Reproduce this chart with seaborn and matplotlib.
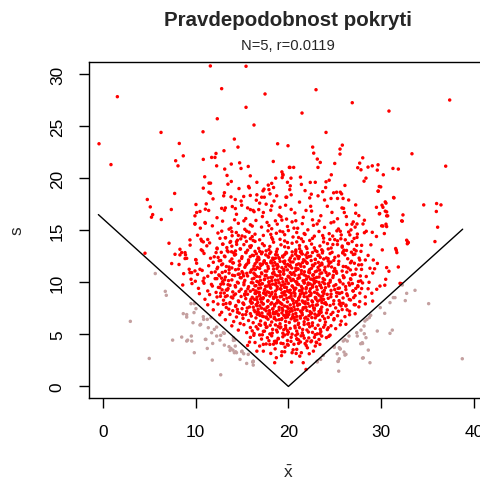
import matplotlib
matplotlib.use("Agg")
import matplotlib.pyplot as plt
import seaborn as sns
import pandas as pd

# --- data (x-bar, s) ---
# sparse red points above the V (outer part of the cloud)
red_outer = [
    (11.58, 30.77), (15.43, 30.74), (1.55, 27.82), (12.8, 28.59), (17.48, 28.08), (15.43, 26.8),
    (12.33, 25.7), (16.29, 25.1), (6.26, 24.39), (10.79, 24.45), (-0.43, 23.3), (8.23, 23.33),
    (14.17, 23.75), (14.56, 22.98), (18.84, 23.3), (0.86, 21.3), (7.84, 21.67), (8.09, 21.18),
    (8.66, 22.14), (12.19, 22.37), (11.72, 21.99), (12.08, 21.99), (13.05, 22.63), (10.82, 21.8),
    (12.26, 21.18), (13.13, 20.87), (13.84, 21.35), (14.74, 21.47), (14.89, 20.93), (15.67, 21.12),
    (18.37, 21.6), (20.1, 21.03), (13.38, 20.26), (10.97, 20.13), (15.89, 20.22), (19.39, 20.38),
    (19.33, 20.05), (11.43, 19.52), (11.6, 19.52), (13.48, 19.42), (13.84, 19.68), (10.82, 19.04),
    (14.67, 19.0), (15.78, 19.07), (11.43, 18.65), (11.6, 18.55), (17.37, 18.94), (17.26, 18.78),
    (17.83, 19.33), (18.2, 19.5), (18.4, 19.1), (18.63, 20.0), (4.78, 17.95), (5.1, 17.24),
    (5.36, 16.5), (5.23, 16.25), (6.29, 16.03), (7.37, 16.99), (7.73, 18.53), (10.03, 17.47),
    (11.14, 17.53), (9.92, 16.38), (10.46, 16.8), (11.04, 17.02), (11.0, 15.74), (9.92, 15.64),
    (11.87, 18.01), (13.02, 18.3), (13.81, 18.2), (14.27, 17.95), (15.18, 18.24), (15.89, 18.34),
    (16.54, 17.88), (17.12, 18.17), (17.4, 18.17), (18.02, 18.49), (18.74, 18.3), (19.74, 18.17),
    (18.2, 17.34), (18.45, 17.8), (13.2, 17.14), (13.1, 16.92), (13.95, 17.27), (14.28, 17.08),
    (14.96, 17.4), (15.6, 17.14), (15.9, 16.98), (16.2, 16.9), (16.8, 16.98),
    (22.98, 28.49), (26.89, 27.24), (37.4, 27.5), (21.47, 26.25), (30.85, 26.44), (24.06, 24.39),
    (19.96, 23.11), (22.62, 22.98), (25.82, 23.17), (25.57, 22.79), (25.57, 22.31), (28.02, 21.95),
    (22.73, 22.4), (23.12, 21.83), (23.44, 21.51), (23.19, 21.03), (20.17, 21.03), (20.57, 21.03),
    (25.0, 21.41), (27.69, 21.44), (27.48, 21.0), (27.83, 20.8), (28.59, 21.06), (29.05, 21.18),
    (29.67, 21.28), (29.59, 20.77), (31.28, 20.93), (31.86, 20.87), (33.33, 22.34), (36.97, 21.15),
    (19.42, 20.29), (19.3, 20.6), (20.28, 20.0), (24.63, 20.32), (28.37, 20.0), (28.16, 19.71),
    (30.24, 20.32), (22.36, 19.59), (24.06, 19.65), (20.2, 19.26), (20.15, 18.9), (24.02, 19.1),
    (29.96, 19.16), (29.67, 18.75), (19.82, 18.17), (22.47, 18.46), (24.88, 18.59), (25.2, 18.65),
    (25.6, 18.65), (24.6, 18.05), (25.3, 18.05), (25.9, 18.05), (25.74, 18.49), (31.35, 18.14),
    (30.45, 17.72), (34.6, 17.43), (35.99, 17.56), (36.46, 17.43), (35.96, 16.8), (32.36, 16.47),
    (32.22, 15.9), (30.1, 17.4), (30.2, 17.2), (29.5, 17.2), (30.45, 16.83), (29.81, 16.57),
    (30.6, 16.38), (30.2, 15.4), (30.6, 15.35), (28.2, 15.96), (28.05, 15.6), (27.26, 17.43),
    (27.26, 16.63), (26.86, 15.58), (27.0, 15.8), (27.4, 15.6), (26.25, 16.31), (26.03, 16.7),
    (25.78, 17.14), (25.95, 17.1), (36.1, 15.29), (35.81, 13.91), (32.87, 13.88), (32.83, 13.7),
    (32.29, 15.87), (30.13, 13.11), (31.64, 13.08), (31.7, 12.85), (30.85, 11.06), (30.6, 11.41),
    (30.5, 10.29), (29.53, 9.33), (29.88, 9.64), (29.09, 8.2), (32.04, 9.9), (32.18, 9.87),
    (28.3, 12.14), (29.16, 12.14), (26.75, 15.03), (32.76, 14.04), (32.94, 13.81), (31.57, 13.24),
    (31.86, 11.47), (30.35, 14.68), (30.06, 15.42), (30.53, 15.58), (30.71, 16.38), (29.85, 16.6),
    (30.6, 16.76), (30.53, 17.6), (31.39, 18.1), (29.7, 18.75), (29.8, 19.2), (29.05, 14.8),
    (9.38, 14.07), (8.3, 13.17), (8.49, 12.86), (7.77, 12.69), (8.85, 12.28), (7.41, 11.8),
    (9.38, 10.93), (10.1, 16.7), (10.65, 13.97), (10.82, 13.88), (10.75, 13.01), (9.92, 11.09),
    (10.46, 11.25), (7.12, 13.75), (4.53, 12.79), (8.6, 9.74), (8.3, 12.63), (8.85, 12.85),
    (9.03, 12.3), (10.03, 12.15), (9.96, 10.1), (9.57, 10.93), (10.57, 14.13), (11.04, 15.67),
    (9.92, 15.58), (17.6, 17.5), (19.1, 17.2), (21.2, 17.7), (22.4, 17.3), (23.9, 17.9),
    (20.3, 18.4), (21.8, 18.8), (23.2, 18.3), (22.9, 19.6), (21.3, 20.1), (16.6, 19.6),
]

# red points close to the bottom of the V
red_low = [
    (15.6, 3.94), (15.8, 4.26), (16.6, 3.39), (17.3, 3.39), (16.9, 3.88), (18.0, 4.04), (18.1, 3.17),
    (18.7, 2.76), (18.52, 2.28), (19.3, 3.33), (19.6, 3.33), (19.9, 4.04), (20.35, 2.34), (20.4, 3.24),
    (20.9, 3.56), (21.4, 3.24), (21.6, 2.28), (21.9, 1.63), (22.25, 3.14), (22.7, 3.39), (22.9, 3.88),
    (23.05, 4.2), (22.0, 4.36), (21.1, 4.13), (17.3, 4.04), (18.7, 4.36), (24.3, 5.64), (23.4, 4.04),
    (17.42, 5.31), (22.58, 5.84), (18.91, 4.57), (21.37, 4.86), (19.64, 3.78), (20.73, 5.62), (16.85, 5.96),
    (23.44, 5.49), (18.26, 5.12), (21.92, 3.94), (19.18, 5.71), (20.28, 4.33), (17.74, 4.68), (22.81, 4.72),
    (18.57, 3.61), (21.54, 5.47), (19.92, 5.02), (20.51, 3.52), (16.52, 5.73), (23.93, 5.91), (18.04, 5.88),
    (22.16, 5.23), (19.43, 4.11), (21.06, 5.94), (17.19, 4.96), (22.43, 4.29), (18.72, 5.41), (20.96, 4.52),
    (19.71, 5.59), (21.71, 4.64), (16.27, 4.91), (24.36, 4.81), (18.39, 4.06), (22.05, 3.71), (19.26, 2.96),
    (20.84, 3.17), (17.61, 5.67), (23.12, 5.05), (19.98, 3.96), (21.23, 2.91),
]

# dense core, one list per band of s
core_4 = [
    (15.9, 4.71), (16.4, 4.22), (17.1, 4.55), (17.6, 4.08), (18.2, 4.86), (18.5, 4.33), (18.9, 4.62),
    (19.2, 4.15), (19.6, 4.94), (19.9, 4.41), (20.3, 4.72), (20.6, 4.05), (20.9, 4.58), (21.3, 4.27),
    (21.6, 4.89), (21.8, 4.12), (22.2, 4.66), (22.5, 4.38), (22.9, 4.97), (23.3, 4.51), (23.6, 4.84),
    (24.1, 4.69), (24.5, 4.93), (17.9, 4.39), (19.4, 4.77), (20.8, 4.91), (16.9, 4.95), (18.7, 4.18),
    (21.1, 4.47), (23.0, 4.25),
]
core_5 = [
    (13.9, 5.82), (14.6, 5.41), (15.2, 5.93), (15.5, 5.17), (15.9, 5.66), (16.3, 5.08), (16.7, 5.52),
    (17.0, 5.87), (17.3, 5.29), (17.7, 5.71), (18.0, 5.04), (18.3, 5.48), (18.6, 5.91), (18.8, 5.23),
    (19.1, 5.62), (19.4, 5.11), (19.7, 5.84), (19.9, 5.36), (20.2, 5.57), (20.4, 5.02), (20.7, 5.79),
    (20.9, 5.31), (21.2, 5.65), (21.5, 5.14), (21.7, 5.95), (22.0, 5.42), (22.3, 5.73), (22.6, 5.19),
    (22.9, 5.58), (23.2, 5.88), (23.5, 5.27), (23.8, 5.69), (24.2, 5.46), (24.6, 5.83), (25.1, 5.55),
    (25.6, 5.92), (26.2, 5.97), (16.1, 5.34), (17.5, 5.96), (18.9, 5.76), (20.0, 5.21), (21.0, 5.05),
    (22.1, 5.99), (23.4, 5.06), (19.5, 5.45),
]
core_6 = [
    (12.6, 6.88), (13.2, 6.41), (13.7, 6.92), (14.1, 6.23), (14.4, 6.67), (14.8, 6.05), (15.1, 6.54),
    (15.4, 6.91), (15.7, 6.33), (16.0, 6.76), (16.2, 6.12), (16.5, 6.58), (16.8, 6.97), (17.0, 6.29),
    (17.3, 6.71), (17.5, 6.08), (17.8, 6.46), (18.0, 6.85), (18.2, 6.19), (18.5, 6.62), (18.7, 6.38),
    (18.9, 6.94), (19.1, 6.02), (19.3, 6.51), (19.5, 6.83), (19.7, 6.25), (19.9, 6.68), (20.1, 6.14),
    (20.3, 6.49), (20.5, 6.9), (20.7, 6.31), (20.9, 6.73), (21.1, 6.07), (21.3, 6.56), (21.5, 6.87),
    (21.7, 6.21), (21.9, 6.64), (22.1, 6.42), (22.4, 6.95), (22.6, 6.11), (22.9, 6.59), (23.1, 6.8),
    (23.4, 6.35), (23.7, 6.74), (24.0, 6.18), (24.3, 6.63), (24.6, 6.92), (24.9, 6.4), (25.3, 6.79),
    (25.7, 6.27), (26.1, 6.7), (26.6, 6.89), (27.2, 6.98), (15.9, 6.99), (17.6, 6.61), (19.0, 6.41),
    (20.6, 6.6), (22.2, 6.03), (23.9, 6.5), (18.4, 6.97),
]
core_7 = [
    (11.3, 7.84), (11.9, 7.36), (12.4, 7.91), (12.8, 7.12), (13.3, 7.58), (13.7, 7.95), (14.0, 7.27),
    (14.3, 7.69), (14.7, 7.04), (15.0, 7.47), (15.2, 7.88), (15.5, 7.21), (15.8, 7.63), (16.0, 7.99),
    (16.3, 7.33), (16.6, 7.75), (16.8, 7.08), (17.1, 7.52), (17.3, 7.92), (17.6, 7.26), (17.8, 7.67),
    (18.0, 7.03), (18.3, 7.44), (18.5, 7.86), (18.7, 7.18), (19.0, 7.59), (19.2, 7.97), (19.4, 7.31),
    (19.6, 7.72), (19.8, 7.1), (20.0, 7.49), (20.2, 7.83), (20.4, 7.24), (20.6, 7.65), (20.8, 7.02),
    (21.0, 7.41), (21.2, 7.89), (21.4, 7.15), (21.6, 7.56), (21.8, 7.94), (22.0, 7.29), (22.3, 7.7),
    (22.5, 7.06), (22.8, 7.5), (23.0, 7.81), (23.3, 7.19), (23.6, 7.62), (23.9, 7.98), (24.2, 7.35),
    (24.5, 7.77), (24.8, 7.11), (25.1, 7.54), (25.5, 7.9), (25.8, 7.38), (26.2, 7.73), (26.6, 7.22),
    (27.1, 7.85), (27.6, 7.64), (28.3, 7.93), (14.5, 7.4), (16.4, 7.17), (18.1, 7.91), (19.3, 7.06),
    (20.7, 7.37), (21.9, 7.61), (23.5, 7.33), (24.1, 7.87), (17.4, 7.42), (22.6, 7.79), (25.9, 7.98),
]
core_8 = [
    (10.4, 8.91), (11.0, 8.37), (11.5, 8.82), (11.9, 8.14), (12.3, 8.59), (12.7, 8.96), (13.0, 8.28),
    (13.4, 8.71), (13.7, 8.05), (14.0, 8.49), (14.3, 8.88), (14.6, 8.22), (14.9, 8.64), (15.1, 8.01),
    (15.4, 8.43), (15.6, 8.85), (15.9, 8.17), (16.1, 8.56), (16.4, 8.94), (16.6, 8.31), (16.9, 8.73),
    (17.1, 8.09), (17.3, 8.52), (17.5, 8.9), (17.8, 8.24), (18.0, 8.67), (18.2, 8.03), (18.4, 8.45),
    (18.6, 8.83), (18.9, 8.19), (19.1, 8.61), (19.3, 8.98), (19.5, 8.35), (19.7, 8.77), (19.9, 8.12),
    (20.1, 8.54), (20.3, 8.92), (20.5, 8.26), (20.7, 8.69), (20.9, 8.07), (21.1, 8.47), (21.3, 8.86),
    (21.5, 8.21), (21.7, 8.63), (21.9, 8.99), (22.1, 8.33), (22.4, 8.75), (22.6, 8.11), (22.9, 8.55),
    (23.1, 8.93), (23.4, 8.29), (23.7, 8.7), (24.0, 8.04), (24.3, 8.46), (24.6, 8.87), (24.9, 8.23),
    (25.2, 8.66), (25.6, 8.02), (25.9, 8.5), (26.3, 8.89), (26.7, 8.3), (27.2, 8.72), (27.7, 8.15),
    (28.3, 8.6), (29.0, 8.95), (13.2, 8.62), (15.3, 8.76), (17.0, 8.38), (18.7, 8.57), (20.4, 8.4),
    (22.0, 8.58), (23.8, 8.36), (25.4, 8.97), (16.7, 8.06), (21.6, 8.08),
]
core_9 = [
    (9.6, 9.88), (10.3, 9.42), (10.9, 9.91), (11.3, 9.17), (11.8, 9.64), (12.2, 9.03), (12.6, 9.49),
    (13.0, 9.85), (13.3, 9.26), (13.7, 9.71), (14.0, 9.08), (14.3, 9.55), (14.6, 9.93), (14.9, 9.34),
    (15.2, 9.76), (15.4, 9.12), (15.7, 9.58), (16.0, 9.97), (16.2, 9.29), (16.5, 9.68), (16.7, 9.05),
    (17.0, 9.46), (17.2, 9.87), (17.4, 9.21), (17.7, 9.63), (17.9, 9.02), (18.1, 9.44), (18.3, 9.82),
    (18.6, 9.15), (18.8, 9.57), (19.0, 9.95), (19.2, 9.33), (19.4, 9.74), (19.6, 9.1), (19.8, 9.51),
    (20.0, 9.89), (20.2, 9.24), (20.4, 9.66), (20.6, 9.04), (20.8, 9.43), (21.0, 9.81), (21.2, 9.19),
    (21.4, 9.6), (21.7, 9.98), (21.9, 9.36), (22.1, 9.77), (22.3, 9.13), (22.6, 9.53), (22.8, 9.92),
    (23.1, 9.28), (23.4, 9.7), (23.7, 9.07), (24.0, 9.48), (24.3, 9.86), (24.6, 9.22), (24.9, 9.65),
    (25.2, 9.01), (25.5, 9.45), (25.9, 9.84), (26.2, 9.3), (26.6, 9.73), (27.0, 9.16), (27.5, 9.59),
    (28.0, 9.94), (28.6, 9.38), (30.4, 9.72), (13.5, 9.4), (15.9, 9.14), (18.0, 9.7), (19.9, 9.2),
    (21.5, 9.42), (23.3, 9.99), (25.0, 9.3), (26.9, 9.88), (16.9, 9.79),
]
core_10 = [
    (8.7, 10.83), (9.5, 10.29), (10.2, 10.76), (10.8, 10.12), (11.3, 10.58), (11.7, 10.94), (12.1, 10.35),
    (12.5, 10.71), (12.9, 10.06), (13.2, 10.5), (13.6, 10.88), (13.9, 10.23), (14.2, 10.64), (14.5, 10.01),
    (14.8, 10.45), (15.1, 10.85), (15.3, 10.18), (15.6, 10.61), (15.9, 10.97), (16.1, 10.32), (16.4, 10.74),
    (16.6, 10.09), (16.9, 10.53), (17.1, 10.91), (17.4, 10.26), (17.6, 10.67), (17.9, 10.04), (18.1, 10.47),
    (18.3, 10.86), (18.6, 10.2), (18.8, 10.62), (19.1, 10.99), (19.3, 10.37), (19.5, 10.78), (19.8, 10.11),
    (20.0, 10.55), (20.2, 10.93), (20.5, 10.28), (20.7, 10.69), (20.9, 10.03), (21.2, 10.43), (21.4, 10.84),
    (21.7, 10.17), (21.9, 10.6), (22.2, 10.96), (22.4, 10.31), (22.7, 10.73), (23.0, 10.08), (23.3, 10.51),
    (23.6, 10.9), (23.9, 10.24), (24.2, 10.66), (24.5, 10.02), (24.8, 10.46), (25.2, 10.87), (25.5, 10.21),
    (25.9, 10.63), (26.3, 10.98), (26.7, 10.34), (27.2, 10.77), (27.8, 10.14), (28.4, 10.56), (29.1, 10.89),
    (12.8, 10.39), (14.7, 10.79), (17.8, 10.42), (20.3, 10.16), (22.8, 10.38), (24.4, 10.81), (26.0, 10.48),
]
core_11 = [
    (8.2, 11.71), (9.3, 11.25), (10.1, 11.83), (10.7, 11.14), (11.4, 11.59), (11.9, 11.92), (12.3, 11.3),
    (12.8, 11.68), (13.2, 11.05), (13.6, 11.47), (14.0, 11.86), (14.3, 11.21), (14.7, 11.63), (15.0, 11.02),
    (15.3, 11.44), (15.7, 11.89), (16.0, 11.17), (16.3, 11.56), (16.6, 11.97), (16.9, 11.33), (17.2, 11.74),
    (17.5, 11.09), (17.8, 11.52), (18.1, 11.9), (18.4, 11.27), (18.7, 11.66), (19.0, 11.04), (19.3, 11.41),
    (19.6, 11.81), (19.9, 11.19), (20.2, 11.6), (20.5, 11.95), (20.8, 11.36), (21.1, 11.77), (21.4, 11.12),
    (21.7, 11.49), (22.0, 11.88), (22.3, 11.23), (22.6, 11.65), (22.9, 11.01), (23.2, 11.43), (23.6, 11.84),
    (23.9, 11.16), (24.3, 11.57), (24.6, 11.94), (25.0, 11.32), (25.4, 11.72), (25.8, 11.08), (26.2, 11.5),
    (26.7, 11.87), (27.3, 11.26), (27.9, 11.69), (28.8, 11.35), (29.6, 11.81), (13.9, 11.38), (16.2, 11.29),
    (18.9, 11.51), (21.0, 11.28), (23.4, 11.62), (19.5, 11.11), (24.9, 11.06), (15.5, 11.73),
]
core_12 = [
    (8.9, 12.64), (10.0, 12.18), (10.9, 12.77), (11.6, 12.31), (12.2, 12.85), (12.7, 12.09), (13.1, 12.52),
    (13.5, 12.93), (13.9, 12.24), (14.3, 12.68), (14.7, 12.03), (15.0, 12.46), (15.4, 12.88), (15.7, 12.15),
    (16.1, 12.59), (16.4, 12.97), (16.8, 12.36), (17.1, 12.74), (17.4, 12.07), (17.8, 12.49), (18.1, 12.9),
    (18.4, 12.21), (18.8, 12.62), (19.1, 12.01), (19.4, 12.43), (19.8, 12.81), (20.1, 12.13), (20.4, 12.56),
    (20.8, 12.95), (21.1, 12.28), (21.5, 12.71), (21.8, 12.05), (22.2, 12.47), (22.6, 12.86), (22.9, 12.19),
    (23.3, 12.6), (23.7, 12.99), (24.1, 12.34), (24.5, 12.76), (24.9, 12.11), (25.4, 12.53), (25.9, 12.92),
    (26.4, 12.26), (27.0, 12.67), (27.7, 12.14), (28.6, 12.58), (14.1, 12.82), (16.6, 12.17), (19.6, 12.66),
    (22.0, 12.37), (24.3, 12.04), (18.6, 12.32), (21.3, 12.91), (12.0, 12.45), (26.8, 12.89),
]
core_13 = [
    (9.4, 13.57), (10.6, 13.12), (11.5, 13.78), (12.3, 13.29), (12.9, 13.66), (13.4, 13.04), (13.9, 13.47),
    (14.4, 13.89), (14.8, 13.21), (15.2, 13.62), (15.6, 13.08), (16.0, 13.51), (16.4, 13.93), (16.8, 13.26),
    (17.2, 13.7), (17.6, 13.02), (18.0, 13.44), (18.4, 13.85), (18.8, 13.18), (19.2, 13.6), (19.6, 13.97),
    (20.0, 13.33), (20.4, 13.75), (20.8, 13.1), (21.2, 13.53), (21.6, 13.91), (22.0, 13.24), (22.5, 13.67),
    (22.9, 13.06), (23.4, 13.49), (23.8, 13.87), (24.3, 13.2), (24.8, 13.63), (25.3, 13.98), (25.8, 13.37),
    (26.4, 13.74), (27.1, 13.15), (27.9, 13.55), (13.7, 13.83), (17.9, 13.14), (21.9, 13.41), (19.9, 13.82),
    (15.9, 13.35), (23.6, 13.12), (26.0, 13.08),
]
core_14 = [
    (10.2, 14.52), (11.3, 14.11), (12.4, 14.73), (13.2, 14.27), (13.9, 14.86), (14.5, 14.04), (15.0, 14.45),
    (15.5, 14.91), (15.9, 14.19), (16.4, 14.62), (16.9, 14.08), (17.3, 14.5), (17.8, 14.94), (18.2, 14.3),
    (18.7, 14.71), (19.1, 14.13), (19.6, 14.57), (20.0, 14.97), (20.5, 14.35), (20.9, 14.78), (21.4, 14.17),
    (21.8, 14.6), (22.3, 14.02), (22.8, 14.43), (23.3, 14.88), (23.8, 14.24), (24.4, 14.67), (25.0, 14.1),
    (25.7, 14.55), (26.5, 14.83), (27.4, 14.31), (28.2, 14.76), (16.1, 14.39), (19.4, 14.84), (22.6, 14.22),
]
core_15 = [
    (11.8, 15.42), (12.9, 15.87), (13.8, 15.21), (14.6, 15.66), (15.3, 15.09), (15.9, 15.52), (16.5, 15.94),
    (17.1, 15.3), (17.7, 15.75), (18.2, 15.14), (18.8, 15.58), (19.3, 15.97), (19.9, 15.36), (20.4, 15.8),
    (21.0, 15.19), (21.5, 15.63), (22.1, 15.04), (22.7, 15.47), (23.3, 15.9), (23.9, 15.27), (24.6, 15.71),
    (25.4, 15.12), (26.3, 15.55), (17.9, 15.45), (20.8, 15.91),
]
core_16 = [
    (14.4, 16.53), (15.4, 16.12), (16.3, 16.78), (17.2, 16.31), (18.1, 16.92), (19.0, 16.45), (19.8, 16.07),
    (20.7, 16.66), (21.6, 16.24), (22.5, 16.84), (23.5, 16.39), (24.7, 16.71),
]

# extra points where the cloud is densest
core_center = [
    (17.23, 8.41), (19.87, 7.65), (22.14, 9.93), (18.56, 10.72), (20.91, 6.38), (16.48, 9.17), (23.62, 8.06),
    (21.35, 11.54), (19.02, 12.28), (17.81, 6.97), (20.44, 9.61), (22.78, 7.33), (18.19, 11.86), (16.92, 7.74),
    (21.67, 8.89), (19.41, 10.05), (23.05, 10.47), (17.56, 12.63), (20.13, 7.18), (22.46, 12.09), (18.84, 8.27),
    (16.27, 10.88), (21.02, 10.36), (19.69, 6.62), (23.88, 9.22), (17.09, 9.84), (20.76, 12.71), (18.33, 7.46),
    (22.21, 6.79), (19.15, 9.39), (21.84, 7.57), (16.65, 11.43), (20.29, 8.68), (23.37, 11.17), (18.71, 12.94),
    (17.44, 10.31), (21.49, 9.02), (19.93, 11.72), (22.95, 8.51), (16.11, 8.03), (20.58, 10.93), (18.02, 9.55),
    (21.18, 12.46), (19.31, 7.89), (23.54, 7.12), (17.67, 11.07), (20.05, 6.91), (22.63, 10.68), (18.47, 6.52),
    (16.83, 12.19), (21.73, 11.01), (19.56, 8.82), (23.19, 12.58), (17.95, 7.28), (20.84, 8.14), (18.28, 10.49),
    (22.37, 9.37), (16.39, 9.66), (21.26, 6.72), (19.74, 12.87), (23.71, 10.02), (17.32, 8.96), (20.37, 11.38),
    (18.93, 6.84), (22.02, 11.82), (16.74, 7.41), (21.58, 10.14), (19.11, 11.02), (23.29, 8.77), (17.86, 12.41),
    (20.67, 9.27), (18.41, 8.58), (22.86, 6.94), (16.58, 10.57), (21.09, 8.31), (19.48, 10.84), (23.95, 11.44),
    (17.15, 7.05), (20.21, 12.33), (18.66, 9.91), (22.54, 8.22), (16.96, 11.76), (21.41, 12.79), (19.83, 8.47),
    (23.46, 9.73), (17.72, 9.08), (20.99, 7.79), (18.14, 12.05), (22.29, 10.91), (16.21, 7.61), (21.93, 9.49),
    (19.26, 6.43), (23.13, 7.84), (17.49, 10.63), (20.53, 10.22), (18.77, 11.31), (22.69, 11.58), (16.89, 8.75),
    (21.31, 7.24), (19.64, 9.83), (23.81, 12.24), (17.03, 11.61), (20.31, 7.47), (18.51, 7.72), (22.11, 7.96),
    (16.54, 12.74), (21.62, 12.17), (19.07, 8.06), (23.41, 10.81), (17.61, 6.67), (20.89, 11.68), (18.24, 9.03),
    (22.41, 12.51), (16.33, 8.37), (21.77, 6.55), (19.38, 12.52), (23.59, 8.36), (17.39, 12.01), (20.71, 8.91),
    (18.87, 10.21), (22.82, 9.04), (16.78, 9.42), (21.14, 10.66), (19.79, 7.22), (23.26, 6.88), (17.91, 10.04),
    (20.41, 12.92), (18.09, 6.71), (22.58, 10.29), (16.44, 11.23), (21.53, 11.89), (19.22, 9.71), (23.67, 12.82),
    (17.27, 7.93), (20.17, 10.41), (18.62, 12.66), (22.25, 8.71), (16.63, 6.93), (21.88, 12.62), (19.52, 11.22),
    (23.02, 9.56), (17.76, 8.19), (20.94, 9.86), (18.36, 11.58), (22.72, 7.53), (16.99, 10.19), (21.45, 9.26),
    (19.97, 10.58), (23.49, 7.41), (17.18, 12.89), (20.62, 6.58), (18.79, 9.34), (22.17, 10.53), (16.17, 9.94),
    (21.22, 8.63), (19.44, 8.99), (23.84, 8.94), (17.53, 9.62), (20.26, 11.94), (18.16, 8.86), (22.49, 11.34),
    (16.71, 12.43), (21.69, 10.72), (19.17, 10.38), (23.23, 11.91), (17.84, 11.32), (20.79, 10.06), (18.58, 6.99),
    (22.91, 12.21), (16.52, 7.86), (21.05, 11.27), (19.61, 12.04), (23.57, 9.48), (17.13, 10.82), (20.49, 8.28),
    (18.97, 12.36), (22.33, 7.18), (16.86, 9.03), (21.38, 12.98), (19.89, 9.16), (23.09, 12.95), (17.69, 7.59),
    (20.97, 12.51), (18.43, 10.97), (22.61, 9.71), (16.29, 10.39), (21.81, 8.12), (19.33, 7.51), (23.74, 10.36),
    (17.37, 11.93), (20.09, 9.06), (18.73, 8.01), (22.06, 12.83), (16.61, 8.56), (21.57, 7.41), (19.72, 11.49),
    (23.33, 6.97), (17.98, 12.76), (20.57, 7.97), (18.31, 12.32), (22.76, 10.13), (16.93, 6.82), (21.11, 9.78),
    (19.09, 10.67), (23.63, 11.69), (17.59, 8.78), (20.35, 10.76), (18.52, 11.89), (22.45, 8.93), (16.41, 11.78),
    (21.96, 10.31), (19.59, 9.52), (23.16, 8.19), (17.21, 6.74), (20.81, 11.14), (18.99, 7.34), (22.23, 11.13),
    (16.76, 10.02), (21.47, 7.06), (19.81, 6.86), (23.91, 9.86), (17.46, 9.31), (20.69, 12.24), (18.21, 10.16),
    (22.88, 11.79), (16.24, 12.57), (21.29, 11.72), (19.46, 11.97), (23.44, 12.39), (17.92, 9.81), (20.14, 11.56),
    (18.61, 9.76), (22.53, 6.61), (16.68, 7.17), (21.71, 9.92), (19.28, 8.64), (23.07, 11.09), (17.64, 11.79),
    (20.46, 6.69), (18.39, 7.13), (22.97, 8.39), (16.91, 12.97), (21.16, 7.87), (19.76, 10.28), (23.52, 8.61),
    (17.06, 8.48), (20.59, 9.44), (18.81, 11.71), (22.35, 9.84), (16.47, 8.92),
]

# extra points on the flanks of the cloud
core_ring = [
    (13.42, 9.26), (26.37, 8.72), (14.19, 12.61), (25.81, 13.48), (12.86, 10.94), (27.12, 11.83), (15.06, 6.88),
    (24.93, 6.51), (13.77, 13.92), (26.74, 10.27), (14.64, 8.14), (25.36, 9.41), (12.53, 12.07), (27.48, 9.67),
    (15.32, 14.36), (24.47, 14.12), (13.08, 8.97), (26.09, 12.64), (14.91, 10.43), (25.68, 7.74), (12.94, 13.66),
    (27.31, 13.02), (15.57, 7.53), (24.71, 12.88), (13.61, 11.21), (26.52, 9.93), (14.38, 14.78), (25.14, 11.06),
    (12.71, 9.81), (27.76, 10.61), (15.84, 13.47), (24.22, 13.71), (13.27, 7.96), (26.88, 13.91), (14.77, 11.69),
    (25.47, 8.24), (12.37, 11.44), (27.04, 8.53), (15.21, 9.97), (24.84, 10.66), (13.93, 14.47), (26.21, 7.81),
    (14.51, 7.12), (25.92, 11.52), (12.62, 14.22), (27.63, 12.32), (15.69, 11.94), (24.58, 8.61), (13.54, 10.16),
    (26.63, 14.55), (14.26, 9.68), (25.23, 14.94), (12.98, 7.88), (27.22, 7.84), (15.43, 12.84), (24.36, 9.64),
    (13.16, 12.46), (26.44, 11.37), (14.83, 13.19), (25.59, 10.04), (12.28, 10.35), (27.89, 11.24), (15.96, 8.36),
    (24.11, 7.06), (13.84, 8.58), (26.96, 9.18), (14.07, 11.86), (25.01, 12.39), (12.81, 14.91), (27.44, 14.63),
    (15.13, 7.97), (24.66, 11.47), (13.36, 13.33), (26.27, 13.06), (14.69, 9.13), (25.77, 9.02), (12.45, 9.51),
    (27.56, 10.08), (15.51, 10.86), (24.29, 12.27), (13.71, 12.03), (26.81, 12.02), (14.34, 7.77), (25.39, 7.22),
    (12.91, 11.76), (27.17, 12.71), (15.76, 14.81), (24.78, 14.44), (13.49, 9.77), (26.57, 8.36), (14.96, 12.29),
    (25.29, 13.63), (12.67, 8.65), (27.71, 8.96), (15.28, 8.87), (24.52, 10.19), (13.22, 14.27), (26.14, 14.08),
    (14.58, 10.77), (25.86, 12.81), (12.31, 13.21), (27.37, 13.54), (15.63, 9.38), (24.19, 8.84), (13.98, 10.68),
    (26.69, 11.19), (14.42, 13.64), (25.53, 8.93), (12.76, 12.88), (27.83, 12.97), (15.38, 11.61), (24.41, 11.82),
    (13.57, 7.42), (26.34, 7.36), (14.86, 14.17), (25.12, 9.77), (12.58, 10.62), (27.27, 9.41), (15.88, 12.46),
    (24.61, 13.29), (13.31, 11.52), (26.91, 10.72), (14.14, 8.76), (25.66, 14.18), (12.42, 12.39), (27.58, 11.67),
    (15.47, 13.93), (24.87, 7.92), (13.87, 12.93), (26.17, 9.59), (14.61, 11.27), (25.44, 12.01), (12.85, 9.28),
    (27.09, 14.21), (15.17, 10.62), (24.06, 10.94), (13.12, 10.24), (26.49, 13.71), (14.29, 13.01), (25.97, 10.44),
    (18.3, 14.13), (21.7, 14.68), (19.6, 13.41), (20.9, 13.88), (17.4, 13.52), (22.8, 13.31), (16.2, 14.02),
    (23.7, 14.49), (19.1, 14.91), (21.2, 13.23),
]

# upper part of the cloud (s about 14-20)
core_upper = [
    (12.3, 16.2), (13.6, 15.1), (14.9, 17.8), (16.1, 15.4), (17.3, 16.7), (18.6, 15.9), (19.7, 17.4),
    (20.6, 15.2), (21.9, 16.9), (23.1, 15.6), (24.2, 17.3), (25.3, 16.1), (26.5, 17.9), (27.6, 16.4),
    (28.4, 14.9), (13.1, 18.6), (15.7, 19.2), (17.9, 18.9), (21.4, 19.4), (23.7, 18.7), (26.1, 19.3),
    (12.8, 17.1), (14.2, 16.0), (16.9, 17.6), (19.2, 16.3), (22.6, 16.0), (24.9, 15.8), (27.2, 15.3),
    (18.1, 14.6), (20.3, 17.0), (15.2, 15.9), (22.3, 18.1), (25.6, 14.9), (11.4, 16.9), (28.9, 13.6),
    (16.6, 18.4), (24.4, 19.8), (19.9, 19.6), (14.6, 14.5), (21.1, 14.3), (11.2, 13.5), (10.5, 15.2),
    (29.5, 14.4), (28.7, 10.0), (11.7, 9.8), (12.1, 11.0), (27.9, 9.4), (29.3, 11.3), (10.9, 10.4),
]

# grey points: intervals that miss the true mean (below the V)
grey_left = [
    (5.64, 10.84), (6.72, 9.13), (6.83, 8.75), (2.95, 6.25), (4.99, 2.69), (7.51, 4.45), (8.49, 4.74),
    (9.13, 4.45), (9.53, 4.84), (8.66, 6.99), (9.03, 6.9), (9.03, 6.66), (9.49, 7.95), (9.85, 7.95),
    (10.03, 7.47), (9.82, 7.09), (9.71, 6.12), (10.46, 5.9), (10.82, 6.7), (10.86, 6.44), (11.36, 5.64),
    (11.72, 5.16), (12.01, 5.48), (12.26, 5.7), (12.26, 4.84), (11.65, 6.6), (11.25, 6.44), (11.04, 4.52),
    (9.85, 3.24), (11.25, 3.65), (11.79, 2.53), (11.83, 4.13), (12.62, 4.45), (12.7, 1.12), (12.7, 4.9),
    (13.09, 5.1), (13.09, 3.97), (13.59, 3.82), (13.7, 3.46), (14.06, 4.42), (14.27, 3.88), (14.17, 3.24),
    (14.96, 3.34), (15.18, 3.14), (15.5, 2.21), (16.21, 2.4), (16.21, 2.05), (14.06, 4.68), (14.2, 4.45),
    (14.02, 3.49), (14.31, 3.33), (14.78, 2.6), (16.15, 2.34), (10.54, 5.96), (9.57, 4.36), (9.03, 4.36),
    (11.1, 4.52), (12.98, 5.16), (13.8, 3.65), (14.4, 3.24), (15.0, 3.39), (15.67, 3.08), (16.2, 2.43),
]
grey_right = [
    (32.29, 9.74), (33.66, 9.23), (32.76, 8.94), (31.32, 8.53), (31.5, 8.53), (32.61, 8.24), (35.13, 7.95),
    (30.96, 8.05), (29.91, 7.57), (30.39, 7.02), (28.88, 6.83), (28.73, 6.61), (28.48, 6.44), (28.26, 6.28),
    (28.16, 5.8), (29.59, 5.32), (31.21, 5.41), (30.96, 5.1), (27.83, 5.41), (27.37, 5.16), (27.43, 4.84),
    (28.19, 5.06), (28.37, 4.68), (26.54, 4.84), (26.35, 4.36), (25.92, 4.36), (26.1, 4.5), (27.97, 4.2),
    (27.8, 4.1), (28.62, 3.49), (25.49, 3.72), (25.6, 3.6), (24.95, 3.75), (26.0, 3.3), (26.1, 3.01),
    (25.49, 2.66), (25.35, 2.4), (28.0, 2.72), (28.8, 2.28), (25.43, 1.47), (23.77, 2.98), (23.1, 2.43),
    (38.76, 2.66), (23.48, 2.6), (25.38, 2.43), (24.95, 3.88), (25.57, 3.62), (26.21, 3.08), (25.27, 3.14),
    (28.08, 2.75), (28.0, 4.13), (23.12, 2.35),
]

# the V: s = t * |xbar - mu| / sqrt(N) boundary
v_x = [-0.5, 20.0, 38.8]
v_s = [16.5, 0.0, 15.1]

title = "Pravdepodobnost pokryti"
subtitle = "N=5, r=0.0119"

# --- build table ---
red_pts = red_outer + red_low + core_4 + core_5 + core_6 + core_7 + core_8 + core_9 \
    + core_10 + core_11 + core_12 + core_13 + core_14 + core_15 + core_16 \
    + core_center + core_ring + core_upper
grey_pts = grey_left + grey_right
df = pd.DataFrame(red_pts + grey_pts, columns=["xbar", "s"])
df["covered"] = ["yes"] * len(red_pts) + ["no"] * len(grey_pts)
v_df = pd.DataFrame({"xbar": v_x, "s": v_s})

# --- style ---
sns.set_style("white")
plt.rcParams["font.family"] = ["Liberation Sans", "DejaVu Sans"]
plt.rcParams["mathtext.fontset"] = "custom"
plt.rcParams["mathtext.rm"] = "Liberation Sans"
plt.rcParams["mathtext.it"] = "Liberation Sans"

W, H = 480, 481
fig = plt.figure(figsize=(W / 100, H / 100), dpi=100)
fig.patch.set_facecolor("white")

# axes box in pixels: left 89, right ~485 (cut off), top 63, bottom 398.5
left, right, top, bottom = 89, 485, 63, 398.5
ax = fig.add_axes([left / W, 1 - bottom / H, (right - left) / W, (bottom - top) / H])

sns.scatterplot(data=df, x="xbar", y="s", hue="covered",
                palette={"yes": "#ff0000", "no": "#c4a0a0"},
                s=6.2, linewidth=0, legend=False, ax=ax)
sns.lineplot(data=v_df, x="xbar", y="s", sort=False, color="black",
             linewidth=1.0, ax=ax)

ax.set_xlim(-1.51, 41.21)
ax.set_ylim(-1.06, 31.15)
ax.set_xticks([0, 10, 20, 30, 40])
ax.set_yticks([0, 5, 10, 15, 20, 25, 30])
ax.set_xlabel("")
ax.set_ylabel("")

for sp in ax.spines.values():
    sp.set_visible(True)
    sp.set_color("black")
    sp.set_linewidth(1.0)

ax.tick_params(axis="both", direction="out", length=7.4, width=1.0, color="black",
               labelsize=12.4, labelcolor="black",
               bottom=True, left=True, top=False, right=False)
ax.tick_params(axis="x", pad=11.5)
ax.tick_params(axis="y", pad=10)
for lab in ax.get_yticklabels():
    lab.set_rotation(90)
    lab.set_va("center")

fig.text(288 / W, 1 - 20.7 / H, title, ha="center", va="center",
         fontsize=14.8, fontweight="bold")
fig.text(288 / W, 1 - 46 / H, subtitle, ha="center", va="center", fontsize=10.6)
fig.text(17 / W, 1 - 230.5 / H, "s", ha="center", va="center", rotation=90, fontsize=12.4)
fig.text(288 / W, 1 - 473 / H, r"$\mathrm{\bar{x}}$", ha="center", va="center", fontsize=12.4)

fig.savefig("out.png", dpi=100, facecolor="white")
